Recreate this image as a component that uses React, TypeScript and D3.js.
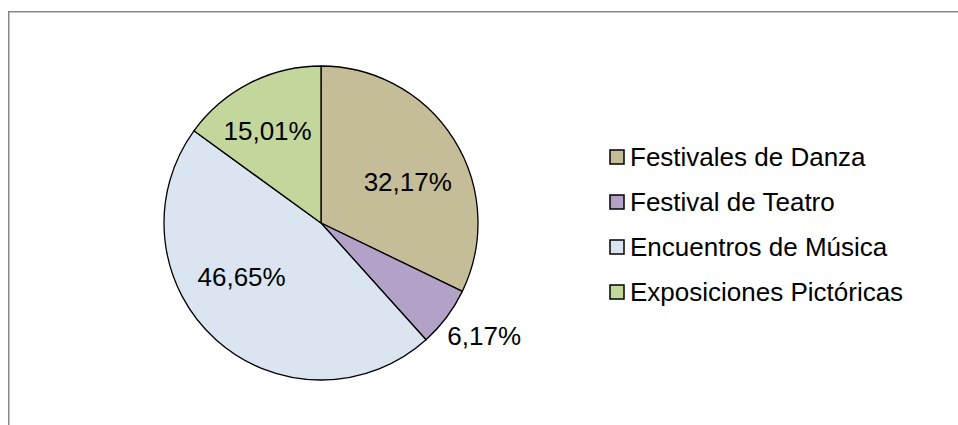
import React from 'react';
import * as d3 from 'd3';

const categories = ['Festivales de Danza', 'Festival de Teatro', 'Encuentros de Música', 'Exposiciones Pictóricas'];
const values = [32.17, 6.17, 46.65, 15.01];
const labels = ['32,17%', '6,17%', '46,65%', '15,01%'];
const colors = ['#c4bd97', '#b2a2c7', '#dbe5f1', '#c3d69b'];

// label placement (fraction of radius, turn in degrees from slice middle), like Excel's "best fit"
const labelRadius = [0.61, 1.263, 0.61, 0.68];
const labelTurn = [7, -2.3, 14, -3];

const W = 958;
const H = 425;

const App: React.FC = () => {
    const cx = 321;
    const cy = 223;
    const r = 157;

    const pie = d3.pie<number>().sort(null).value(d => d);
    const arcs = pie(values);
    const arc = d3.arc<d3.PieArcDatum<number>>().innerRadius(0).outerRadius(r);

    const legend = d3.scalePoint<string>().domain(categories).range([157, 292]);

    const font = 'Liberation Sans, Arial, sans-serif';

    return (
        <svg width={W} height={H} style={{ position: 'absolute', left: 0, top: 0 }}>
            <rect x={0} y={0} width={W} height={H} fill="#fff" />
            <rect x={8.75} y={11.75} width={1000} height={1000} fill="none" stroke="#878787" strokeWidth={1.5} />
            <g transform={`translate(${cx},${cy})`}>
                {arcs.map((a, i) => (
                    <path key={i} d={arc(a) || ''} fill={colors[i]} stroke="#000" strokeWidth={1.3} strokeLinejoin="round" />
                ))}
                {arcs.map((a, i) => {
                    const mid = (a.startAngle + a.endAngle) / 2 + (labelTurn[i] * Math.PI) / 180;
                    const lr = r * labelRadius[i];
                    const [x, y] = d3.arc().innerRadius(lr).outerRadius(lr).centroid({
                        startAngle: mid,
                        endAngle: mid,
                        innerRadius: lr,
                        outerRadius: lr,
                    } as any);
                    return (
                        <text key={i} x={x} y={y} dy="0.35em" textAnchor="middle" fontFamily={font} fontSize={26} fill="#000">
                            {labels[i]}
                        </text>
                    );
                })}
            </g>
            <g>
                {categories.map((c, i) => (
                    <g key={c} transform={`translate(610,${legend(c)})`}>
                        <rect x={0} y={-7} width={14} height={14} fill={colors[i]} stroke="#000" strokeWidth={1.5} />
                        <text x={20} y={0} dy="0.36em" fontFamily={font} fontSize={26} fill="#000">{c}</text>
                    </g>
                ))}
            </g>
        </svg>
    );
};

export default App;
